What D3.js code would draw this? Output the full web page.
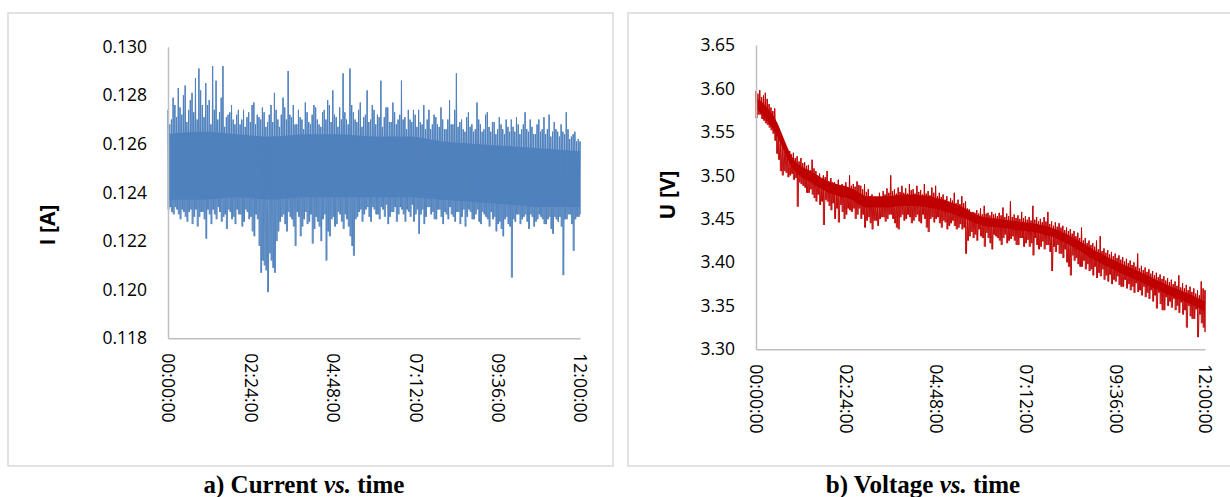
<!DOCTYPE html>
<html>
<head>
<meta charset="utf-8">
<script src="https://cdn.jsdelivr.net/npm/d3@7"></script>
<style>
body { margin: 0; background: #fff; }
svg text { font-family: "Open Sans", "Liberation Sans", sans-serif; }
</style>
</head>
<body>
<div id="chart-area"></div>
<script>
var width = 1230,
    height = 497;

// readings binned every 6 min, 0 .. 12 h : max and min of each bin
var currentHi = [
  0.1274,0.1270,0.1276,0.1283,0.1272,0.1284,0.1274,0.1281,0.1287,0.1291,
  0.1276,0.1285,0.1278,0.1292,0.1286,0.1273,0.1292,0.1271,0.1273,0.1270,
  0.1272,0.1268,0.1274,0.1271,0.1269,0.1277,0.1272,0.1270,0.1273,0.1269,
  0.1276,0.1281,0.1270,0.1272,0.1275,0.1290,0.1271,0.1268,0.1274,0.1270,
  0.1277,0.1269,0.1272,0.1275,0.1268,0.1273,0.1270,0.1276,0.1282,0.1271,
  0.1275,0.1289,0.1270,0.1291,0.1273,0.1269,0.1277,0.1271,0.1282,0.1270,
  0.1274,0.1272,0.1286,0.1271,0.1275,0.1269,0.1273,0.1270,0.1286,0.1271,
  0.1274,0.1269,0.1272,0.1274,0.1268,0.1266,0.1274,0.1268,0.1271,0.1267,
  0.1270,0.1266,0.1278,0.1268,0.1289,0.1269,0.1266,0.1271,0.1267,0.1265,
  0.1277,0.1268,0.1266,0.1273,0.1265,0.1269,0.1266,0.1268,0.1264,0.1267,
  0.1270,0.1265,0.1268,0.1266,0.1273,0.1265,0.1267,0.1264,0.1270,0.1266,
  0.1264,0.1272,0.1265,0.1266,0.1263,0.1265,0.1273,0.1262,0.1264,0.1261,
  0.1261];
var currentLo = [
  0.1233,0.1232,0.1234,0.1231,0.1233,0.1230,0.1232,0.1227,0.1233,0.1230,
  0.1232,0.1221,0.1231,0.1233,0.1229,0.1232,0.1230,0.1225,0.1232,0.1230,
  0.1233,0.1231,0.1228,0.1232,0.1230,0.1222,0.1229,0.1207,0.1210,0.1199,
  0.1212,0.1207,0.1224,0.1230,0.1227,0.1232,0.1229,0.1218,0.1230,0.1226,
  0.1232,0.1228,0.1219,0.1230,0.1226,0.1229,0.1212,0.1222,0.1230,0.1227,
  0.1231,0.1225,0.1229,0.1222,0.1214,0.1230,0.1233,0.1231,0.1234,0.1228,
  0.1233,0.1231,0.1234,0.1230,0.1227,0.1232,0.1234,0.1231,0.1233,0.1228,
  0.1232,0.1235,0.1231,0.1223,0.1233,0.1230,0.1234,0.1232,0.1229,0.1233,
  0.1227,0.1231,0.1234,0.1230,0.1232,0.1227,0.1233,0.1230,0.1232,0.1229,
  0.1233,0.1227,0.1231,0.1229,0.1232,0.1230,0.1227,0.1225,0.1229,0.1227,
  0.1205,0.1228,0.1231,0.1229,0.1231,0.1225,0.1230,0.1228,0.1231,0.1229,
  0.1227,0.1230,0.1223,0.1229,0.1230,0.1206,0.1229,0.1231,0.1216,0.1230,
  0.1231];
// same, for the bins offset by 3 min
var currentHiB = [
  0.1268,0.1279,0.1271,0.1275,0.1280,0.1269,0.1278,0.1273,0.1270,0.1282,
  0.1271,0.1276,0.1268,0.1274,0.1270,0.1279,0.1267,0.1272,0.1276,0.1268,
  0.1274,0.1270,0.1267,0.1273,0.1276,0.1268,0.1271,0.1275,0.1267,0.1272,
  0.1269,0.1274,0.1267,0.1279,0.1270,0.1272,0.1276,0.1268,0.1271,0.1266,
  0.1273,0.1268,0.1276,0.1270,0.1267,0.1274,0.1278,0.1269,0.1272,0.1267,
  0.1270,0.1273,0.1268,0.1276,0.1270,0.1274,0.1267,0.1272,0.1269,0.1276,
  0.1268,0.1271,0.1267,0.1275,0.1269,0.1277,0.1268,0.1272,0.1270,0.1266,
  0.1270,0.1274,0.1267,0.1269,0.1276,0.1270,0.1266,0.1272,0.1268,0.1275,
  0.1266,0.1270,0.1268,0.1274,0.1267,0.1270,0.1265,0.1273,0.1268,0.1266,
  0.1270,0.1265,0.1272,0.1267,0.1269,0.1264,0.1271,0.1266,0.1270,0.1265,
  0.1267,0.1271,0.1264,0.1268,0.1266,0.1270,0.1264,0.1268,0.1265,0.1271,
  0.1266,0.1263,0.1269,0.1265,0.1268,0.1264,0.1266,0.1263,0.1265,0.1262];
var currentLoB = [
  0.1234,0.1231,0.1233,0.1229,0.1232,0.1228,0.1233,0.1230,0.1226,0.1232,
  0.1229,0.1233,0.1227,0.1231,0.1234,0.1228,0.1231,0.1233,0.1229,0.1227,
  0.1231,0.1226,0.1233,0.1229,0.1224,0.1231,0.1218,0.1212,0.1208,0.1215,
  0.1209,0.1220,0.1228,0.1231,0.1224,0.1230,0.1226,0.1232,0.1222,0.1229,
  0.1227,0.1231,0.1225,0.1228,0.1220,0.1231,0.1224,0.1229,0.1226,0.1232,
  0.1228,0.1231,0.1226,0.1218,0.1229,0.1232,0.1228,0.1233,0.1230,0.1234,
  0.1231,0.1229,0.1233,0.1235,0.1230,0.1232,0.1228,0.1234,0.1231,0.1233,
  0.1230,0.1228,0.1233,0.1231,0.1227,0.1234,0.1231,0.1229,0.1233,0.1230,
  0.1232,0.1229,0.1231,0.1228,0.1232,0.1230,0.1226,0.1233,0.1229,0.1231,
  0.1228,0.1232,0.1230,0.1226,0.1229,0.1224,0.1228,0.1222,0.1230,0.1226,
  0.1229,0.1231,0.1227,0.1230,0.1228,0.1231,0.1226,0.1229,0.1230,0.1227,
  0.1229,0.1225,0.1230,0.1228,0.1226,0.1229,0.1231,0.1227,0.1229,0.1230];
// dense part of the band, one value per hour
var currentCoreTop = [0.1264,0.1265,0.1264,0.1263,0.1264,0.1264,0.1263,0.1263,0.1261,0.1260,0.1259,0.1258,0.1257];
var currentCoreBot = [0.1237,0.1237,0.1238,0.1237,0.1238,0.1238,0.1238,0.1238,0.1237,0.1236,0.1235,0.1234,0.1234];

var voltageHi = [
  3.597,3.598,3.592,3.588,3.578,3.577,3.556,3.535,3.531,3.528,
  3.526,3.522,3.520,3.515,3.512,3.518,3.505,3.502,3.500,3.505,
  3.497,3.492,3.495,3.490,3.492,3.500,3.490,3.493,3.488,3.490,
  3.484,3.478,3.474,3.480,3.482,3.485,3.500,3.484,3.486,3.488,
  3.485,3.490,3.484,3.488,3.483,3.490,3.482,3.486,3.488,3.480,
  3.478,3.476,3.474,3.480,3.472,3.476,3.470,3.461,3.458,3.460,
  3.462,3.465,3.457,3.458,3.456,3.457,3.463,3.456,3.470,3.455,
  3.454,3.458,3.453,3.452,3.465,3.452,3.450,3.452,3.458,3.447,
  3.446,3.445,3.442,3.440,3.438,3.436,3.434,3.440,3.428,3.425,
  3.422,3.425,3.430,3.416,3.414,3.412,3.410,3.408,3.406,3.404,
  3.402,3.400,3.410,3.396,3.394,3.392,3.390,3.388,3.386,3.384,
  3.382,3.380,3.378,3.385,3.376,3.374,3.372,3.370,3.368,3.378,
  3.368];
var voltageLo = [
  3.566,3.570,3.563,3.558,3.552,3.540,3.518,3.500,3.503,3.500,
  3.495,3.464,3.490,3.486,3.480,3.478,3.470,3.466,3.443,3.470,
  3.460,3.450,3.446,3.458,3.455,3.460,3.462,3.455,3.450,3.440,
  3.452,3.438,3.448,3.450,3.452,3.450,3.455,3.445,3.438,3.455,
  3.450,3.452,3.448,3.455,3.445,3.450,3.435,3.452,3.450,3.445,
  3.448,3.438,3.445,3.442,3.440,3.438,3.410,3.430,3.428,3.425,
  3.430,3.418,3.428,3.415,3.430,3.425,3.428,3.422,3.427,3.425,
  3.420,3.428,3.422,3.418,3.408,3.420,3.418,3.415,3.420,3.390,
  3.412,3.410,3.405,3.400,3.385,3.402,3.398,3.395,3.392,3.390,
  3.385,3.382,3.384,3.380,3.378,3.375,3.378,3.374,3.372,3.370,
  3.368,3.365,3.366,3.362,3.360,3.358,3.355,3.347,3.352,3.345,
  3.350,3.348,3.345,3.342,3.340,3.325,3.338,3.335,3.314,3.330,
  3.320];
var voltageHiB = [
  3.594,3.590,3.595,3.582,3.574,3.560,3.540,3.530,3.525,3.524,
  3.520,3.516,3.514,3.511,3.506,3.508,3.500,3.496,3.498,3.493,
  3.492,3.489,3.487,3.488,3.486,3.488,3.487,3.489,3.484,3.481,
  3.476,3.472,3.470,3.474,3.478,3.480,3.482,3.479,3.481,3.480,
  3.479,3.483,3.479,3.481,3.478,3.479,3.477,3.480,3.476,3.475,
  3.472,3.470,3.471,3.468,3.467,3.468,3.462,3.457,3.457,3.456,
  3.455,3.456,3.454,3.455,3.453,3.454,3.452,3.453,3.452,3.451,
  3.450,3.451,3.449,3.448,3.449,3.447,3.446,3.447,3.444,3.442,
  3.441,3.440,3.437,3.436,3.433,3.430,3.428,3.425,3.422,3.420,
  3.418,3.415,3.413,3.411,3.409,3.407,3.405,3.403,3.401,3.399,
  3.397,3.395,3.393,3.391,3.389,3.387,3.385,3.383,3.381,3.379,
  3.377,3.375,3.373,3.371,3.370,3.368,3.366,3.364,3.362,3.370];
var voltageLoB = [
  3.570,3.565,3.560,3.555,3.548,3.525,3.505,3.505,3.498,3.502,
  3.497,3.492,3.488,3.480,3.484,3.474,3.478,3.470,3.472,3.465,
  3.468,3.462,3.466,3.450,3.462,3.458,3.450,3.462,3.455,3.448,
  3.445,3.448,3.442,3.452,3.447,3.455,3.450,3.440,3.452,3.448,
  3.455,3.445,3.452,3.447,3.455,3.440,3.450,3.446,3.452,3.440,
  3.446,3.442,3.448,3.438,3.444,3.440,3.425,3.435,3.432,3.438,
  3.428,3.434,3.422,3.432,3.428,3.420,3.432,3.425,3.430,3.420,
  3.428,3.418,3.426,3.422,3.428,3.415,3.424,3.420,3.412,3.418,
  3.420,3.410,3.415,3.395,3.408,3.405,3.395,3.402,3.398,3.392,
  3.395,3.388,3.392,3.385,3.386,3.380,3.384,3.372,3.380,3.375,
  3.372,3.376,3.368,3.372,3.365,3.368,3.362,3.365,3.345,3.360,
  3.355,3.358,3.350,3.354,3.345,3.350,3.335,3.346,3.340,3.325];
// dense part of the band, every half hour
var voltageCoreTop = [3.590,3.566,3.519,3.504,3.492,3.486,3.476,3.476,3.478,3.477,3.472,3.464,3.453,3.450,3.447,3.444,3.438,3.428,3.415,3.404,3.394,3.384,3.374,3.365,3.355];
var voltageCoreBot = [3.578,3.550,3.507,3.491,3.479,3.473,3.463,3.463,3.465,3.464,3.459,3.452,3.443,3.440,3.437,3.434,3.428,3.417,3.404,3.393,3.383,3.373,3.363,3.354,3.344];

var timeTicks = [0, 2.4, 4.8, 7.2, 9.6, 12];
var currentTicks = [0.118, 0.120, 0.122, 0.124, 0.126, 0.128, 0.130];
var voltageTicks = [3.30, 3.35, 3.40, 3.45, 3.50, 3.55, 3.60, 3.65];

var svg = d3.select("#chart-area").append("svg")
    .attr("width", width)
    .attr("height", height);

function pad(n) { return (n < 10 ? "0" : "") + n; }
function hms(h) {
  var m = Math.round(h * 60);
  return pad(Math.floor(m / 60)) + ":" + pad(m % 60) + ":00";
}

function drawPanel(p) {
  // frame
  svg.append("rect")
    .attr("x", p.box[0]).attr("y", p.box[1])
    .attr("width", p.box[2]).attr("height", p.box[3])
    .style("fill", "none").style("stroke", "#d9d9d9").style("stroke-width", 1.5);

  var x = d3.scaleLinear().domain([0, 12]).range([p.left, p.right]);
  var y = d3.scaleLinear().domain(d3.extent(p.ticks)).range([p.bottom, p.top]);

  // band core
  var core = p.coreTop.map(function(v, i) {
    return { t: i * 12 / (p.coreTop.length - 1), top: v, bot: p.coreBot[i] };
  });
  svg.append("path")
    .datum(core)
    .attr("d", d3.area()
      .x(d => x(d.t)).y0(d => y(d.bot)).y1(d => y(d.top))
      .curve(d3.curveMonotoneX))
    .style("fill", p.colour);

  // 3-min bins, merged in time order
  var bins = [];
  p.hi.forEach(function(v, i) {
    bins.push({ t: i * 0.1, hi: v, lo: p.lo[i] });
    if (i < p.hiB.length) bins.push({ t: i * 0.1 + 0.05, hi: p.hiB[i], lo: p.loB[i] });
  });

  // min..max range of every bin
  svg.append("g").selectAll("line")
    .data(bins)
    .enter()
    .append("line")
    .attr("x1", d => x(d.t)).attr("x2", d => x(d.t))
    .attr("y1", d => y(d.hi)).attr("y2", d => y(d.lo))
    .style("stroke", p.colour)
    .style("stroke-width", 0.9);

  // the trace itself, max then min of every bin
  var pts = [];
  bins.forEach(function(d) {
    pts.push({ t: d.t, v: d.hi });
    pts.push({ t: Math.min(12, d.t + 0.025), v: d.lo });
  });
  svg.append("path")
    .datum(pts)
    .attr("d", d3.line().x(d => x(d.t)).y(d => y(d.v)))
    .style("fill", "none")
    .style("stroke", p.colour)
    .style("stroke-width", 0.9);

  // axes
  var ya = svg.append("g")
    .attr("transform", "translate(" + p.left + ",0)")
    .call(d3.axisLeft(y).tickValues(p.ticks).tickSize(0).tickPadding(21).tickFormat(d3.format(p.fmt)));
  ya.selectAll("text").style("font-size", "17.5px").style("fill", "#000");

  var xa = svg.append("g")
    .attr("transform", "translate(0," + p.bottom + ")")
    .call(d3.axisBottom(x).tickValues(timeTicks).tickSize(0).tickFormat(hms));
  xa.selectAll("text")
    .attr("transform", "rotate(90)")
    .attr("x", 15).attr("y", 0).attr("dy", "0.35em")
    .style("text-anchor", "start")
    .style("font-size", "17.5px").style("fill", "#000");

  svg.selectAll(".domain").style("stroke", "#bfbfbf").style("stroke-width", 1.5);

  svg.append("text")
    .attr("transform", "translate(" + p.titleX + "," + p.titleY + ") rotate(-90)")
    .attr("text-anchor", "middle")
    .attr("dy", "0.35em")
    .style("font-size", "21px").style("font-weight", "bold")
    .text(p.title);

  var cap = svg.append("text")
    .attr("x", p.capX).attr("y", 493)
    .attr("text-anchor", "middle")
    .style("font-family", "'Liberation Serif', 'Times New Roman', serif")
    .style("font-size", "25px").style("font-weight", "bold");
  cap.append("tspan").text(p.caption[0]);
  cap.append("tspan").style("font-style", "italic").text(p.caption[1]);
  cap.append("tspan").text(p.caption[2]);
}

drawPanel({
  box: [8, 13, 605, 453],
  left: 168, right: 580, top: 46.7, bottom: 338.3,
  ticks: currentTicks, fmt: ".3f",
  hi: currentHi, lo: currentLo, hiB: currentHiB, loB: currentLoB,
  coreTop: currentCoreTop, coreBot: currentCoreBot,
  colour: "#4f81bd",
  title: "I [A]", titleX: 48, titleY: 225,
  caption: ["a) Current ", "vs.", " time"], capX: 304
});

drawPanel({
  box: [628, 13, 610, 453],
  left: 756, right: 1205, top: 45, bottom: 349.3,
  ticks: voltageTicks, fmt: ".2f",
  hi: voltageHi, lo: voltageLo, hiB: voltageHiB, loB: voltageLoB,
  coreTop: voltageCoreTop, coreBot: voltageCoreBot,
  colour: "#c00000",
  title: "U [V]", titleX: 668, titleY: 195,
  caption: ["b) Voltage ", "vs.", " time"], capX: 923
});
</script>
</body>
</html>
